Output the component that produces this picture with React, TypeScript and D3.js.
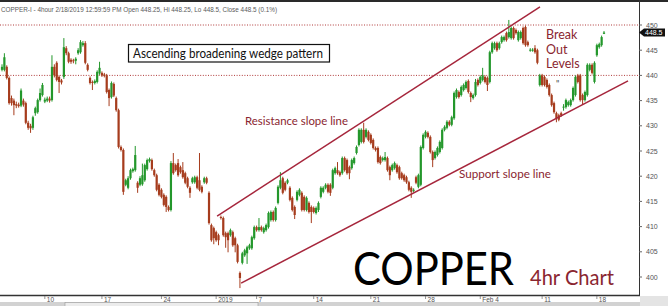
import React from "react";
import * as d3 from "d3";

const W = 668;
const H = 306;

// 4-hour OHLC bars, oldest first
const opens = [
  441.1, 441.1, 441.7, 439.5, 435.5, 435.0, 434.3, 434.2, 434.0, 435.0,
  434.5, 430.6, 430.0, 429.6, 432.5, 432.7, 435.1, 436.1, 434.8, 435.0,
  435.4, 435.1, 441.7, 442.5, 439.7, 439.0, 439.7, 445.4, 444.4, 443.1,
  443.0, 442.9, 444.4, 444.6, 446.0, 446.4, 442.1, 439.5, 438.7, 438.5,
  438.7, 440.4, 440.5, 440.2, 440.0, 437.1, 435.7, 438.3, 435.5, 433.1,
  425.8, 425.2, 418.3, 417.7, 419.6, 421.0, 421.2, 418.7, 418.3, 418.4,
  419.2, 421.4, 423.0, 423.2, 421.2, 420.2,
  418.3, 417.3, 416.3, 415.9, 413.9, 413.3, 422.6, 422.2, 422.6, 421.8,
  421.2, 420.6, 419.6, 417.7, 418.8, 418.8, 419.8, 419.2, 417.9, 418.8,
  419.6, 416.7, 410.3, 409.7, 408.9, 408.3, 411.9, 411.7, 408.7, 408.7,
  408.3, 408.9, 407.7, 406.3, 400.8, 402.8, 404.3, 404.7, 405.7, 405.7,
  407.7, 409.9, 409.3, 409.9, 408.9, 409.3, 409.9, 411.3, 412.9, 411.3,
  414.7, 417.7, 419.6, 418.7, 418.7, 417.7, 415.7, 413.9, 415.3, 416.3,
  416.7, 415.9, 413.3, 414.7, 413.9, 413.7, 412.7,
  413.3, 415.9, 416.9, 417.7, 418.3, 418.3, 417.7, 420.6, 421.2, 420.8,
  420.6, 423.6, 423.2, 421.8, 421.6, 422.6, 424.6, 426.2, 426.8, 429.2,
  427.8, 428.8, 428.2, 427.2, 425.6, 425.6, 423.8, 423.2, 423.2, 423.6,
  421.8, 421.2, 421.6, 422.2, 421.8, 420.6, 420.2, 419.8, 418.8, 417.7,
  417.1, 419.8, 417.9, 418.3, 425.6, 427.8, 428.6, 427.8, 424.8, 423.6,
  424.2, 424.8, 425.6, 429.2, 429.6, 430.8, 430.2, 431.5, 435.7, 436.7,
  436.1, 437.1, 437.5, 438.9, 436.5, 435.5, 436.1,
  439.1, 438.5, 439.1, 439.7, 439.5, 438.7, 444.6, 445.4, 446.4, 445.4,
  446.6, 447.0, 448.4, 447.6, 447.4, 449.4, 449.0, 447.0, 447.4, 449.4,
  449.6, 446.6, 445.0, 445.0, 445.4, 445.0, 438.1, 440.0, 439.7, 439.1,
  438.1, 436.1, 434.5, 432.5, 432.1, 432.5, 433.6, 433.7, 434.1, 434.1,
  435.1, 436.1, 440.0, 440.0, 436.1, 435.1, 436.1, 441.1, 442.1, 438.7,
  444.0, 445.6, 446.0, 448.25,
];

const highs = [
  442.2, 444.4, 442.0, 439.8, 436.0, 435.4, 434.8, 434.6, 437.4, 435.4,
  434.8, 431.0, 430.4, 432.0, 433.8, 435.4, 437.4, 438.5, 435.6, 435.8,
  435.8, 444.0, 442.2, 442.8, 440.0, 439.3, 447.4, 445.8, 444.7, 443.4,
  443.3, 443.6, 445.4, 447.0, 446.8, 446.8, 442.4, 439.8, 439.0, 439.2,
  441.0, 442.7, 440.8, 440.5, 440.3, 437.4, 438.8, 438.6, 435.8, 433.4,
  426.1, 425.5, 419.5, 420.0, 421.5, 421.7, 426.0, 419.0, 420.0, 422.5,
  422.5, 423.5, 423.7, 423.5, 421.5, 420.5,
  418.6, 417.6, 416.6, 416.2, 414.2, 423.0, 424.6, 422.5, 423.4, 422.1,
  422.8, 420.9, 419.9, 418.0, 419.9, 420.1, 420.1, 424.6, 418.2, 419.9,
  419.9, 417.0, 410.6, 410.0, 409.2, 408.6, 412.2, 412.0, 409.0, 409.0,
  409.6, 409.2, 408.0, 406.6, 401.1, 405.0, 405.6, 406.2, 406.6, 408.2,
  410.2, 410.2, 411.7, 410.2, 410.0, 410.6, 413.0, 413.2, 413.2, 414.0,
  418.2, 420.8, 419.9, 419.0, 419.5, 418.0, 416.0, 414.2, 417.2, 417.6,
  417.0, 416.2, 416.0, 415.0, 414.2, 414.0, 414.0,
  415.0, 418.0, 418.0, 418.6, 418.6, 418.6, 421.5, 421.9, 422.8, 421.1,
  423.9, 423.9, 423.5, 422.1, 423.5, 423.9, 426.1, 429.5, 429.5, 430.6,
  429.5, 429.1, 428.5, 427.5, 425.9, 425.9, 424.1, 423.9, 424.8, 423.9,
  422.1, 422.5, 422.9, 422.5, 422.1, 420.9, 420.5, 420.1, 419.1, 418.0,
  417.6, 420.1, 420.5, 426.1, 428.5, 429.1, 428.9, 428.1, 425.1, 425.1,
  425.9, 427.1, 429.5, 430.1, 431.1, 431.1, 432.0, 436.8, 437.4, 437.0,
  438.0, 438.4, 439.0, 439.2, 436.8, 436.4, 439.3,
  439.4, 440.0, 441.5, 440.0, 439.8, 444.9, 446.7, 446.7, 446.7, 446.7,
  447.9, 447.9, 448.7, 451.0, 449.7, 449.7, 449.3, 448.9, 448.9, 449.7,
  449.9, 446.9, 445.4, 445.4, 446.0, 445.3, 440.3, 440.3, 440.0, 439.4,
  438.4, 436.4, 434.8, 432.8, 432.4, 432.8, 434.3, 435.4, 435.0, 435.4,
  437.8, 440.0, 440.3, 440.3, 436.4, 437.0, 442.4, 442.4, 442.4, 442.8,
  446.3, 446.5, 447.9, 448.8,
];

const lows = [
  440.8, 440.8, 439.2, 434.2, 434.0, 432.1, 433.5, 433.6, 433.7, 433.8,
  430.3, 429.2, 428.6, 429.2, 432.0, 432.4, 434.8, 435.8, 434.5, 434.7,
  434.6, 434.8, 439.6, 438.8, 436.5, 438.2, 439.3, 444.0, 442.4, 442.3,
  442.4, 442.2, 444.1, 444.3, 445.7, 442.2, 440.8, 438.2, 437.1, 438.2,
  438.4, 440.1, 439.7, 439.6, 436.4, 433.9, 435.4, 435.7, 432.8, 425.5,
  424.9, 416.3, 418.0, 417.4, 419.3, 420.7, 420.9, 416.7, 418.0, 418.1,
  418.9, 421.1, 422.7, 421.1, 419.9, 417.0,
  416.0, 415.6, 414.0, 412.9, 413.0, 413.0, 420.3, 420.9, 419.9, 420.5,
  419.5, 418.4, 417.6, 415.7, 418.5, 418.5, 417.4, 417.0, 416.6, 418.5,
  418.4, 410.4, 407.0, 406.5, 407.0, 406.3, 411.4, 408.0, 405.8, 404.9,
  408.0, 406.0, 404.9, 402.7, 397.8, 402.5, 404.0, 402.6, 405.4, 405.4,
  407.4, 409.0, 409.0, 409.0, 408.6, 409.0, 409.6, 411.0, 411.0, 411.0,
  414.4, 417.4, 416.4, 417.0, 418.4, 415.0, 413.0, 411.5, 415.0, 416.0,
  413.0, 413.0, 413.0, 412.6, 410.7, 412.6, 412.4,
  412.9, 415.6, 416.6, 417.4, 416.6, 416.1, 417.4, 420.3, 420.3, 419.9,
  420.3, 420.9, 420.3, 419.4, 421.3, 422.3, 424.3, 425.9, 426.5, 426.5,
  427.5, 426.9, 426.3, 425.3, 424.9, 422.5, 422.3, 422.9, 422.9, 420.9,
  419.2, 420.9, 421.3, 420.5, 419.3, 419.3, 418.9, 418.5, 417.0, 415.7,
  416.8, 418.4, 417.6, 418.0, 425.3, 427.5, 427.5, 424.5, 421.8, 423.3,
  423.9, 424.5, 425.3, 428.9, 429.3, 429.9, 429.9, 431.2, 435.4, 435.4,
  435.8, 436.8, 437.2, 436.4, 434.7, 435.2, 435.8,
  437.8, 438.2, 438.8, 438.4, 436.9, 438.4, 444.3, 445.1, 444.7, 445.1,
  446.3, 446.7, 446.7, 447.3, 447.1, 447.1, 448.1, 446.7, 447.1, 446.1,
  445.7, 445.7, 444.7, 444.7, 444.3, 442.2, 437.8, 437.8, 437.8, 437.4,
  435.8, 433.8, 432.4, 430.7, 430.9, 431.8, 433.0, 433.4, 433.8, 433.8,
  434.8, 435.8, 438.4, 434.8, 434.3, 434.8, 435.8, 440.8, 440.2, 438.4,
  443.7, 445.3, 445.7, 448.2,
];

const closes = [
  441.7, 443.6, 439.5, 434.5, 434.5, 434.1, 434.0, 433.9, 437.0, 434.2,
  430.6, 429.6, 429.5, 431.7, 433.5, 435.1, 436.5, 438.1, 435.2, 435.4,
  435.0, 441.7, 440.0, 439.1, 438.7, 438.6, 445.6, 444.4, 442.7, 442.7,
  442.8, 443.3, 445.0, 446.6, 446.4, 442.5, 441.1, 438.5, 438.5, 438.9,
  440.7, 441.5, 440.0, 439.9, 436.7, 435.5, 438.5, 436.0, 433.1, 425.8,
  425.2, 416.9, 419.2, 419.6, 421.2, 421.4, 424.2, 417.7, 419.6, 420.2,
  422.2, 423.2, 423.4, 421.4, 420.2, 417.3,
  416.3, 415.9, 414.3, 413.9, 413.3, 422.6, 420.6, 421.2, 420.2, 420.8,
  419.8, 418.7, 417.9, 416.7, 419.6, 419.8, 417.7, 417.3, 416.9, 419.6,
  418.7, 410.7, 407.3, 407.7, 407.3, 407.3, 411.7, 408.3, 407.9, 407.3,
  409.3, 406.3, 406.3, 403.0, 399.8, 404.7, 405.3, 405.9, 406.3, 407.9,
  409.9, 409.3, 409.9, 409.3, 409.7, 410.3, 412.7, 412.9, 411.3, 413.7,
  417.9, 419.2, 416.7, 417.3, 419.2, 415.3, 413.3, 412.3, 416.9, 417.3,
  413.3, 413.3, 415.7, 412.9, 412.9, 412.9, 413.7,
  414.7, 417.7, 417.7, 418.3, 416.9, 416.7, 421.2, 421.6, 420.6, 420.2,
  423.6, 421.2, 420.6, 420.6, 423.2, 423.6, 425.8, 429.2, 429.2, 426.8,
  429.2, 427.2, 426.6, 425.6, 425.2, 422.8, 422.6, 423.6, 423.8, 421.2,
  420.2, 422.2, 422.6, 420.8, 419.6, 419.6, 419.2, 418.8, 417.3, 416.9,
  417.3, 418.7, 420.2, 425.8, 428.2, 428.8, 427.8, 424.8, 423.2, 424.8,
  425.6, 426.8, 429.2, 429.8, 430.8, 430.2, 431.7, 436.5, 437.1, 435.7,
  437.7, 438.1, 438.7, 436.7, 435.7, 436.1, 438.7,
  438.1, 439.7, 440.0, 438.7, 438.1, 444.6, 446.4, 446.4, 445.0, 446.4,
  447.6, 447.6, 447.0, 448.6, 449.4, 447.4, 448.4, 448.6, 448.6, 446.4,
  446.0, 446.0, 445.1, 445.1, 444.6, 442.5, 440.0, 438.1, 438.1, 437.7,
  436.1, 434.1, 432.7, 431.5, 431.2, 432.1, 433.8, 435.1, 434.7, 435.1,
  437.5, 439.7, 438.7, 435.1, 435.1, 436.7, 442.1, 442.1, 440.5, 442.5,
  446.0, 446.2, 447.6, 448.5,
];

// Axis labels
const priceTicks = [400, 405, 410, 415, 420, 425, 430, 435, 440, 445, 450];
const dateTickIndex = [18, 42, 67, 90, 107, 131, 155, 178, 201, 227, 250];
const dateTickLabel = ["10", "17", "24", "2019", "7", "14", "21", "28", "Feb 4", "11", "18"];

// Horizontal break-out levels
const breakoutLevels = [450, 440];

// Trend lines as [bar index, price] end points
const resistanceLine: [number, number][] = [[90.4, 412.1], [226.1, 453.6]];
const supportLine: [number, number][] = [[100.5, 398.8], [263.1, 438.9]];

const lastPrice = 448.5;
const headerText =
  "COPPER-I - 4hour 2/18/2019 12:59:59 PM Open 448.25, Hi 448.25, Lo 448.5, Close 448.5 (0.1%)";

const UP = "#23972b";
const DOWN = "#a63c1d";
const TREND = "#a6263c";
const NOTE = "#8a2630";
const FONT = "Lato, 'Open Sans', sans-serif";
const SMALL = "'Liberation Sans', Arial, sans-serif";

export default function App() {
  const n = closes.length;
  const plotRight = 639;
  const axisY = 295;

  const x = d3.scaleLinear().domain([0, n - 1]).range([2, 604]);
  const y = d3.scaleLinear().domain([400, 450]).range([277, 25]);
  const bw = 2.2;

  const trend = d3
    .line<[number, number]>()
    .x((d) => x(d[0]))
    .y((d) => y(d[1]));

  const yLast = y(lastPrice);

  return (
    <svg
      width={W}
      height={H}
      viewBox={`0 0 ${W} ${H}`}
      style={{ position: "absolute", left: 0, top: 0, background: "#fff" }}
    >
      <defs>
        <clipPath id="plot">
          <rect x={0} y={2} width={plotRight} height={axisY - 2} />
        </clipPath>
      </defs>

      {/* top border */}
      <rect x={0} y={0} width={W} height={2} fill="#2a2a2a" />

      {/* header */}
      <text x={1} y={12} fontFamily={SMALL} fontSize={6.6} fill="#5a5a5a" textLength={276} lengthAdjust="spacingAndGlyphs">
        {headerText}
      </text>

      {/* break-out levels */}
      {breakoutLevels.map((p) => (
        <line
          key={p}
          x1={0}
          x2={plotRight}
          y1={y(p)}
          y2={y(p)}
          stroke="#b03a3a"
          strokeWidth={1}
          strokeDasharray="1 1.6"
        />
      ))}

      {/* candles */}
      <g clipPath="url(#plot)">
        {closes.map((c, i) => {
          const o = opens[i];
          const col = c >= o ? UP : DOWN;
          const cx = x(i);
          const top = y(Math.max(o, c));
          const bot = y(Math.min(o, c));
          return (
            <g key={i}>
              <line x1={cx} x2={cx} y1={y(highs[i])} y2={y(lows[i])} stroke={col} strokeWidth={1} />
              <rect x={cx - bw / 2} y={top} width={bw} height={Math.max(1, bot - top)} fill={col} />
            </g>
          );
        })}
      </g>

      {/* trend lines */}
      <path d={trend(resistanceLine) || ""} stroke={TREND} strokeWidth={1.5} fill="none" />
      <path d={trend(supportLine) || ""} stroke={TREND} strokeWidth={1.5} fill="none" />

      {/* annotations */}
      <rect x={128.5} y={44.5} width={201} height={17.5} fill="#fff" stroke="#111" strokeWidth={1.2} />
      <text x={133} y={57.5} fontFamily={FONT} fontSize={12.5} fill="#111" textLength={190} lengthAdjust="spacingAndGlyphs">
        Ascending broadening wedge pattern
      </text>
      <text x={245} y={124.5} fontFamily={FONT} fontSize={12} fill={NOTE} textLength={103} lengthAdjust="spacingAndGlyphs">
        Resistance slope line
      </text>
      <text x={459} y={177.5} fontFamily={FONT} fontSize={12} fill={NOTE} textLength={92} lengthAdjust="spacingAndGlyphs">
        Support slope line
      </text>
      <text fontFamily={FONT} fontSize={12.5} fill={NOTE}>
        <tspan x={546} y={38.5}>Break</tspan>
        <tspan x={546} y={53.5}>Out</tspan>
        <tspan x={546} y={68}>Levels</tspan>
      </text>
      <text x={556} y={87} fontFamily={FONT} fontSize={9} fill="#444">"</text>
      <text x={353} y={285} fontFamily={FONT} fontSize={46} fill="#000" textLength={161} lengthAdjust="spacingAndGlyphs">
        COPPER
      </text>
      <text x={530} y={285} fontFamily={FONT} fontSize={22} fill={NOTE} textLength={84} lengthAdjust="spacingAndGlyphs">
        4hr Chart
      </text>

      {/* right price axis */}
      <line x1={plotRight + 0.5} x2={plotRight + 0.5} y1={0} y2={axisY} stroke="#333" strokeWidth={1} />
      {priceTicks.map((p) => (
        <g key={p}>
          <line x1={plotRight} x2={plotRight + 3} y1={y(p)} y2={y(p)} stroke="#666" strokeWidth={1} />
          <text x={646} y={y(p) + 2.5} fontFamily={SMALL} fontSize={7} fill="#555">
            {p}
          </text>
        </g>
      ))}
      <path
        d={`M${plotRight},${yLast} L${plotRight + 5},${yLast - 4} L${665},${yLast - 4} L${665},${yLast + 4} L${plotRight + 5},${yLast + 4} Z`}
        fill="#111"
      />
      <text x={645} y={yLast + 2.6} fontFamily={SMALL} fontSize={7} fill="#fff">
        {lastPrice}
      </text>

      {/* bottom time axis */}
      <line x1={0} x2={plotRight + 1} y1={axisY + 0.5} y2={axisY + 0.5} stroke="#333" strokeWidth={1.5} />
      {dateTickIndex.map((idx, k) => (
        <g key={idx}>
          <line x1={x(idx)} x2={x(idx)} y1={axisY + 1} y2={axisY + 4} stroke="#777" strokeWidth={0.8} />
          <text x={x(idx) + 2} y={axisY + 6.5} fontFamily={SMALL} fontSize={6.5} fill="#555">
            {dateTickLabel[k]}
          </text>
        </g>
      ))}

      {/* scroll bar strip */}
      <rect x={0} y={302} width={W} height={4} fill="#d2d2d2" />
      <rect x={65} y={302.5} width={193} height={4} fill="#ececec" stroke="#9a9a9a" strokeWidth={0.6} />
      <rect x={plotRight + 1} y={axisY + 1} width={W - plotRight - 1} height={H - axisY - 1} fill="#e4e4e4" />
    </svg>
  );
}
